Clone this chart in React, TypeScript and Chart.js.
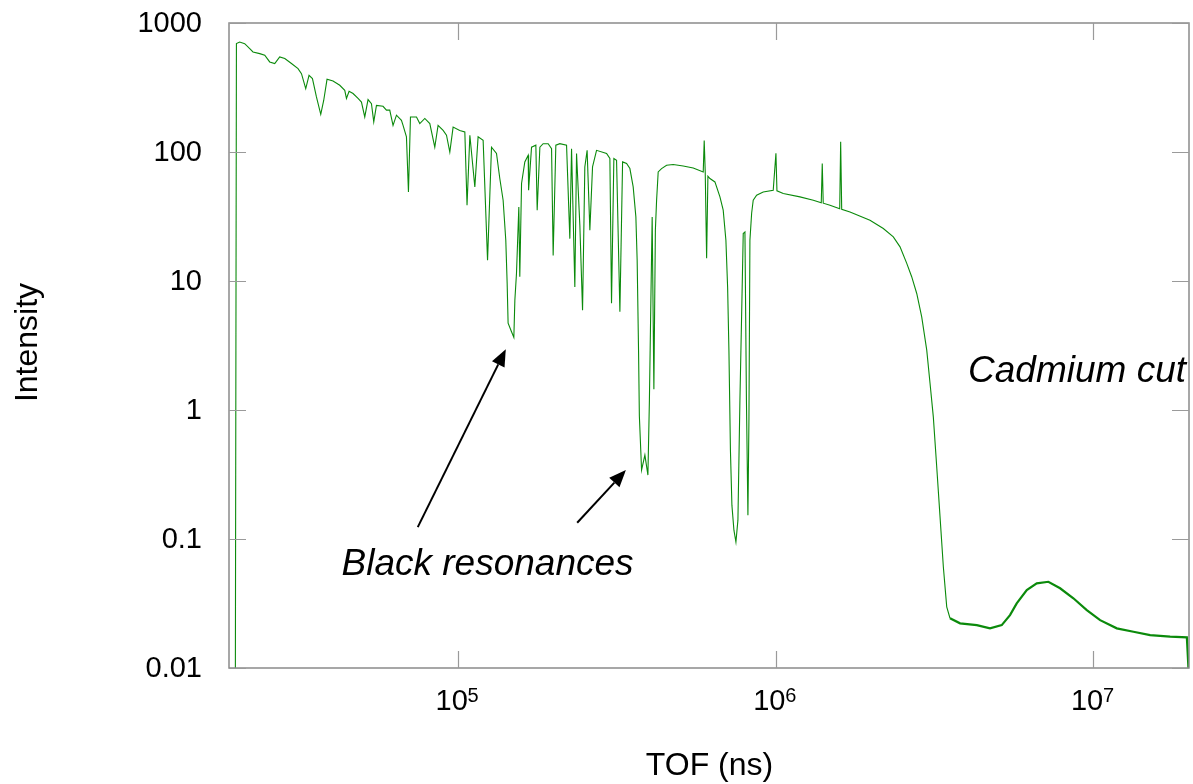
import React, { useEffect, useRef } from "react";
import { Chart, registerables } from "chart.js";

Chart.register(...registerables);

// ---- Data (time of flight in ns, intensity) ----
const tofNs = [
  19900, 20050, 20530, 21290, 22080, 22610, 23740, 24620, 25520, 26470,
  27440, 28470, 29880, 31340, 32130, 33140, 33940, 34790, 35810, 36950,
  37760, 38670, 40390, 42410, 43970, 44520, 45370, 46700, 48420, 49630,
  50830, 52060, 53360, 54260, 55330, 58040, 59490, 60930, 62400, 63970,
  66320, 67100, 68770, 69780, 70800, 73960, 75750, 78560, 81460, 84450,
  86490, 89720, 91930, 94170, 96450, 101200, 105000, 106700, 108900, 112900,
  115600, 119900, 123800, 127400, 132100, 135300, 138600, 141300, 142700, 143700,
  147300, 149800, 150900, 152700, 155300, 156400, 158400, 162200, 166200, 166700,
  170300, 175700, 177400, 180900, 185200, 192100, 196900, 199200, 203100, 209100,
  219500, 224800, 227600, 233100, 236000, 241700, 246500, 250600, 254800, 259900,
  265000, 272800, 293400, 300500, 304100, 309300, 315400, 323100, 329500, 339200,
  347400, 355800, 362800, 366200, 369900, 372100, 378100, 387300, 395900, 400200,
  404500, 408300, 413400, 417900, 421600, 426500, 437100, 453300, 475500, 511300,
  549900, 591200, 595400, 599800, 605900, 611600, 620600, 643500, 667300, 683300,
  696800, 705500, 712200, 720000, 727800, 738500, 749300, 760200, 771300, 782600,
  790100, 799900, 808600, 817400, 823400, 829300, 839700, 849400, 870600, 913100,
  981900, 1001400, 1008800, 1056000, 1192000, 1313000, 1391000, 1401000, 1411000, 1482000,
  1590000, 1601000, 1613000, 1713000, 1980000, 2181000, 2345000, 2462000, 2585000, 2679000,
  2779000, 2881000, 2988000, 3060000, 3134000, 3212000, 3290000, 3370000, 3454000, 3537000,
  3804000, 4295000, 4727000, 5146000, 5464000, 5736000, 6170000, 6633000, 7216000, 7856000,
  8650000, 9533000, 10500000, 11850000, 13370000, 15090000, 17440000, 19690000, 19920000,
];

const intensity = [
  0.01, 692, 712, 692, 633, 596, 579, 562, 499, 485,
  545, 530, 485, 443, 405, 310, 393, 371, 267, 196,
  252, 366, 355, 329, 301, 260, 296, 284, 260, 244,
  187, 255, 237, 171, 230, 226, 211, 211, 161, 193,
  176, 161, 131, 49, 187, 187, 166, 182, 166, 109,
  161, 147, 135, 100, 156, 147, 143, 38.7, 135, 53.6,
  131, 123, 14.5, 109, 97.3, 62.3, 42.3, 20.7, 9.62, 4.71,
  4.04, 3.65, 7.1, 11.5, 37.5, 10.8, 57.0, 83.8, 94.4, 50.5,
  109, 113, 35.4, 109, 116, 116, 106, 15.8, 113, 116,
  113, 21.3, 106, 9.0, 97.3, 27.1, 5.94, 76.6, 103, 24.8,
  76.6, 103, 97.3, 89.0, 6.73, 89.0, 86.3, 5.77, 83.8, 81.4,
  74.4, 53.6, 31.4, 14.5, 2.91, 0.897, 0.342, 0.447, 0.313, 1.19,
  7.1, 31.4, 1.45, 24.8, 42.3, 70.1, 74.4, 78.9, 80.0, 78.0,
  75.2, 70.1, 123, 70.1, 15.0, 64.9, 62.3, 58.6, 44.9, 35.4,
  20.7, 9.0, 2.91, 0.489, 0.183, 0.117, 0.0947, 0.14, 1.19, 7.1,
  23.3, 24.0, 1.19, 0.153, 0.835, 20.7, 33.5, 42.3, 46.2, 49.0,
  50.5, 97.8, 50.0, 47.6, 44.9, 42.3, 40.4, 81.4, 40.1, 38.7,
  36.3, 120, 36.0, 34.3, 29.6, 25.5, 22.0, 18.4, 13.7, 10.8,
  8.0, 5.27, 2.91, 1.61, 0.885, 0.363, 0.149, 0.061, 0.0298, 0.0243,
  0.0222, 0.0215, 0.0203, 0.0215, 0.0257, 0.0317, 0.0402, 0.0453, 0.0466, 0.0415,
  0.0347, 0.0281, 0.0235, 0.0203, 0.0191, 0.018, 0.0175, 0.0173, 0.01,
];

// ---- Axis ticks ----
const xTickValues = [1e5, 1e6, 1e7];
const xTickExponents = ["5", "6", "7"];
const yTickValues = [0.01, 0.1, 1, 10, 100, 1000];
const yTickLabels = ["0.01", "0.1", "1", "10", "100", "1000"];

// ---- Annotations (in data coordinates) ----
const arrowTailsX = [74650, 237100];
const arrowTailsY = [0.1237, 0.1336];
const arrowTipsX = [141300, 337500];
const arrowTipsY = [2.963, 0.342];
const noteTexts = ["Black resonances", "Cadmium cut"];
const noteX = [42950, 4031000];
const noteY = [0.0526, 1.653];

const FONT = "'Liberation Sans', Arial, Helvetica, sans-serif";

const framePlugin = {
  id: "framePlugin",
  afterDatasetsDraw(chart: any) {
    const { ctx, chartArea: a, scales } = chart;
    const xs = scales.x;
    const ys = scales.y;
    ctx.save();

    // frame
    ctx.strokeStyle = "#8a8a8a";
    ctx.lineWidth = 1.5;
    ctx.strokeRect(a.left, a.top, a.right - a.left, a.bottom - a.top);

    // inward ticks on all four sides
    const tl = 17;
    ctx.beginPath();
    for (const v of yTickValues) {
      const py = Math.round(ys.getPixelForValue(v)) + 0.5;
      ctx.moveTo(a.left, py);
      ctx.lineTo(a.left + tl, py);
      ctx.moveTo(a.right, py);
      ctx.lineTo(a.right - tl, py);
    }
    for (const v of xTickValues) {
      const px = Math.round(xs.getPixelForValue(v)) + 0.5;
      ctx.moveTo(px, a.bottom);
      ctx.lineTo(px, a.bottom - tl);
      ctx.moveTo(px, a.top);
      ctx.lineTo(px, a.top + tl);
    }
    ctx.strokeStyle = "#9a9a9a";
    ctx.lineWidth = 1.2;
    ctx.stroke();

    ctx.fillStyle = "#000";
    // y tick labels
    ctx.font = `29px ${FONT}`;
    ctx.textAlign = "right";
    ctx.textBaseline = "alphabetic";
    yTickValues.forEach((v, i) => {
      const py = ys.getPixelForValue(v);
      ctx.fillText(yTickLabels[i], a.left - 27, py + 9);
    });

    // x tick labels (10 with superscript exponent)
    xTickValues.forEach((v, i) => {
      const px = xs.getPixelForValue(v);
      ctx.textAlign = "left";
      ctx.font = `29px ${FONT}`;
      ctx.fillText("10", px - 22.5, a.bottom + 42);
      ctx.font = `20px ${FONT}`;
      ctx.fillText(xTickExponents[i], px + 9.5, a.bottom + 33.7);
    });

    // axis titles
    ctx.font = `32px ${FONT}`;
    ctx.textAlign = "center";
    ctx.fillText("TOF (ns)", (a.left + a.right) / 2 + 0.5, a.bottom + 107);
    ctx.save();
    ctx.translate(a.left - 192.5, (a.top + a.bottom) / 2 - 3);
    ctx.rotate(-Math.PI / 2);
    ctx.fillText("Intensity", 0, 0);
    ctx.restore();

    // annotation texts
    ctx.textAlign = "left";
    noteTexts.forEach((t, i) => {
      ctx.font = `italic 37px ${FONT}`;
      ctx.fillText(t, xs.getPixelForValue(noteX[i]), ys.getPixelForValue(noteY[i]));
    });

    // arrows
    ctx.strokeStyle = "#000";
    ctx.fillStyle = "#000";
    ctx.lineWidth = 2;
    arrowTailsX.forEach((_, i) => {
      const x0 = xs.getPixelForValue(arrowTailsX[i]);
      const y0 = ys.getPixelForValue(arrowTailsY[i]);
      const x1 = xs.getPixelForValue(arrowTipsX[i]);
      const y1 = ys.getPixelForValue(arrowTipsY[i]);
      const ang = Math.atan2(y1 - y0, x1 - x0);
      const hl = 17;
      const hw = 7;
      const bx = x1 - hl * Math.cos(ang);
      const by = y1 - hl * Math.sin(ang);
      ctx.beginPath();
      ctx.moveTo(x0, y0);
      ctx.lineTo(bx, by);
      ctx.stroke();
      ctx.beginPath();
      ctx.moveTo(x1, y1);
      ctx.lineTo(bx + hw * Math.sin(ang), by - hw * Math.cos(ang));
      ctx.lineTo(bx - hw * Math.sin(ang), by + hw * Math.cos(ang));
      ctx.closePath();
      ctx.fill();
    });

    ctx.restore();
  },
};

export default function App() {
  const canvasRef = useRef<HTMLCanvasElement | null>(null);

  useEffect(() => {
    const canvas = canvasRef.current;
    if (!canvas) return;
    const points = tofNs.map((x, i) => ({ x, y: intensity[i] }));
    const chart = new Chart(canvas, {
      type: "line",
      data: {
        datasets: [
          {
            label: "Intensity",
            data: points,
            borderColor: "#0b8a0b",
            borderWidth: 1.1,
            pointRadius: 0,
            tension: 0,
            fill: false,
            segment: {
              borderWidth: (c: any) => (c.p0.parsed.x > 3.5e6 ? 2.2 : 1.1),
            },
          },
        ],
      },
      options: {
        animation: false,
        responsive: false,
        devicePixelRatio: 1,
        layout: { padding: { left: 229, right: 4, top: 23, bottom: 116 } },
        plugins: {
          legend: { display: false },
          tooltip: { enabled: false },
          title: { display: false },
        },
        scales: {
          x: { type: "logarithmic", min: 19000, max: 2.0e7, display: false },
          y: { type: "logarithmic", min: 0.01, max: 1000, display: false },
        },
      },
      plugins: [framePlugin],
    });
    return () => chart.destroy();
  }, []);

  return (
    <div style={{ position: "absolute", left: 0, top: 0, width: 1193, height: 784, background: "#fff" }}>
      <canvas ref={canvasRef} width={1193} height={784} style={{ display: "block" }} />
    </div>
  );
}
